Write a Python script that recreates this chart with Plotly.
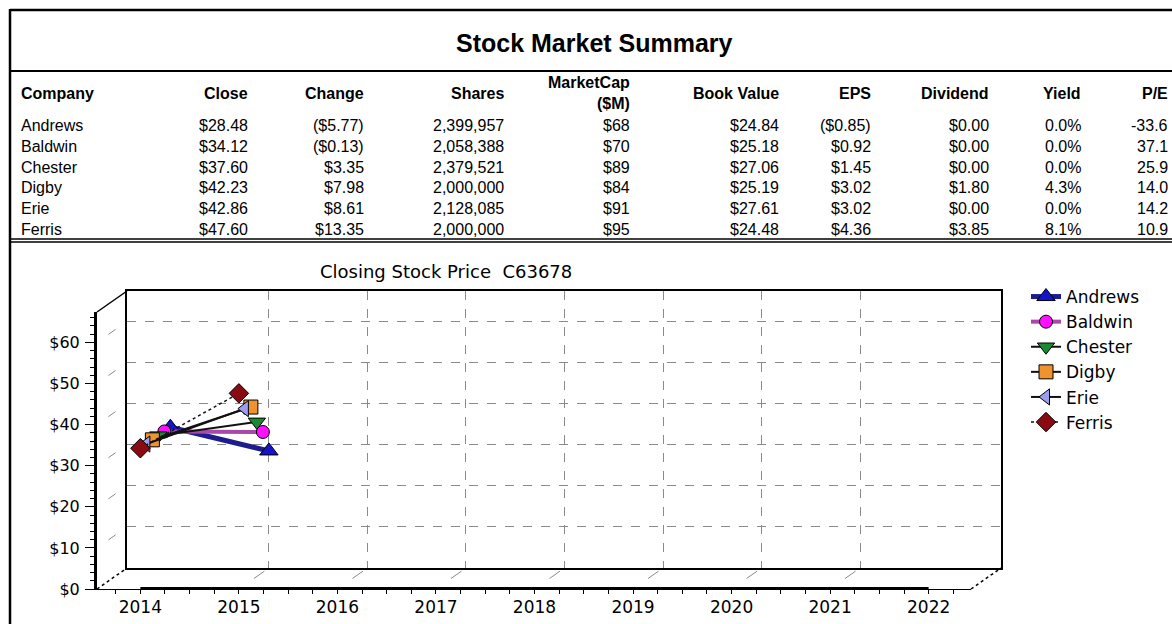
import plotly.graph_objects as go

# table data
companies = ["Andrews", "Baldwin", "Chester", "Digby", "Erie", "Ferris"]
close = [28.48, 34.12, 37.60, 42.23, 42.86, 47.60]
change = [-5.77, -0.13, 3.35, 7.98, 8.61, 13.35]
shares = [2399957, 2058388, 2379521, 2000000, 2128085, 2000000]
market_cap = [68, 70, 89, 84, 91, 95]
book_value = [24.84, 25.18, 27.06, 25.19, 27.61, 24.48]
eps = [-0.85, 0.92, 1.45, 3.02, 3.02, 4.36]
dividend = [0.00, 0.00, 0.00, 1.80, 0.00, 3.85]
yield_pct = [0.0, 0.0, 0.0, 4.3, 0.0, 8.1]
pe = [-33.6, 37.1, 25.9, 14.0, 14.2, 10.9]

# chart data
years = [2014, 2015]
year_ticks = [2014, 2015, 2016, 2017, 2018, 2019, 2020, 2021, 2022]
price_ticks = [10, 20, 30, 40, 50, 60]
prev_close = [round(c - d, 2) for c, d in zip(close, change)]

colors = {
    "Andrews": dict(line="#1c1c8c", fill="#1414c8", symbol="triangle-up", size=16, width=5, dash="solid"),
    "Baldwin": dict(line="#a848a8", fill="#ff10ff", symbol="circle", size=13, width=4, dash="solid"),
    "Chester": dict(line="#111111", fill="#1a8a32", symbol="triangle-down", size=15, width=2, dash="solid"),
    "Digby": dict(line="#111111", fill="#f0922e", symbol="square", size=14, width=2, dash="solid"),
    "Erie": dict(line="#111111", fill="#9c9cf0", symbol="triangle-left", size=14, width=2, dash="solid"),
    "Ferris": dict(line="#111111", fill="#8a0a12", symbol="diamond", size=15, width=1.5, dash="dot"),
}

W, H = 1172, 624


def px_x(p):
    return p / W


def px_y(p):
    return 1 - p / H


def money(v, dec=2):
    s = f"${abs(v):,.{dec}f}"
    return f"({s})" if v < 0 else s


# geometry of the pseudo 3D box (pixels)
FX0, FX1, FYB, FYT = 97, 971, 589, 312
DEPTH_X, DEPTH_Y = 30, 21
X_RANGE = [2013.56, 2022.43]
Y_RANGE = [0, 67.4]


def fx(year):
    return FX0 + (year - X_RANGE[0]) * (FX1 - FX0) / (X_RANGE[1] - X_RANGE[0])


def fy(v):
    return FYB - (v - Y_RANGE[0]) * (FYB - FYT) / (Y_RANGE[1] - Y_RANGE[0])


fig = go.Figure()
layout = {}
n = len(companies)
for i, name in enumerate(companies):
    k = n - 1 - i  # Andrews at the back, Ferris at the front
    sx = "" if i == 0 else str(i + 1)
    c = colors[name]
    fig.add_trace(go.Scatter(
        x=years, y=[prev_close[i], close[i]], name=name, mode="lines+markers",
        xaxis="x" + sx, yaxis="y" + sx, cliponaxis=False,
        line=dict(color=c["line"], width=c["width"], dash=c["dash"]),
        marker=dict(symbol=c["symbol"], size=c["size"], color=c["fill"],
                    line=dict(color="#000000", width=1)),
    ))
    dx, dy = DEPTH_X * k / (n - 1), DEPTH_Y * k / (n - 1)
    xa = dict(domain=[px_x(FX0 + dx), px_x(FX1 + dx)], range=X_RANGE, anchor="y" + sx,
              automargin=False,
              showgrid=False, zeroline=False, showticklabels=False, ticks="", showline=False)
    ya = dict(domain=[px_y(FYB - dy), px_y(FYT - dy)], range=Y_RANGE, anchor="x" + sx,
              automargin=False,
              showgrid=False, zeroline=False, showticklabels=False, ticks="", showline=False)
    if k == n - 1:
        # back wall with dashed grid
        xa.update(showline=True, mirror=True, linecolor="#000000", linewidth=1.5,
                  showgrid=True, tickmode="array", tickvals=year_ticks[1:-1],
                  gridcolor="#8a8a8a", griddash="dash", gridwidth=1)
        ya.update(showline=True, mirror=True, linecolor="#000000", linewidth=1.5,
                  showgrid=True, tickmode="array", tickvals=price_ticks,
                  gridcolor="#8a8a8a", griddash="dash", gridwidth=1)
    if k == 0:
        # front axes with labels
        xa.update(showline=True, linecolor="#000000", linewidth=1, showticklabels=True,
                  tickmode="linear", tick0=2014, dtick=1, tickformat="d",
                  ticks="outside", ticklen=4, tickcolor="#000000", ticklabelstandoff=-1,
                  minor=dict(tickmode="linear", tick0=2014, dtick=0.25, ticks="outside",
                             ticklen=4, tickcolor="#000000"),
                  tickfont=dict(family="DejaVu Sans", size=17, color="#000000"))
        ya.update(showline=True, linecolor="#000000", linewidth=3, showticklabels=True,
                  tickmode="linear", tick0=0, dtick=10, tickprefix="$",
                  ticks="outside", ticklen=9, tickcolor="#000000", ticklabelstandoff=2,
                  minor=dict(tickmode="linear", tick0=0, dtick=2, ticks="outside",
                             ticklen=4, tickcolor="#000000"),
                  tickfont=dict(family="DejaVu Sans", size=16, color="#000000"))
    layout["xaxis" + sx] = xa
    layout["yaxis" + sx] = ya

front = str(n)

shapes = [
    # page frame
    dict(type="line", xref="paper", yref="paper", x0=px_x(10), x1=1, y0=px_y(10), y1=px_y(10),
         line=dict(color="#000000", width=2.5)),
    dict(type="line", xref="paper", yref="paper", x0=px_x(10), x1=px_x(10), y0=px_y(9), y1=0,
         line=dict(color="#000000", width=2.5)),
    dict(type="line", xref="paper", yref="paper", x0=px_x(10), x1=1, y0=px_y(71), y1=px_y(71),
         line=dict(color="#000000", width=2)),
    dict(type="line", xref="paper", yref="paper", x0=px_x(10), x1=1, y0=px_y(239), y1=px_y(239),
         line=dict(color="#000000", width=1.5)),
    dict(type="line", xref="paper", yref="paper", x0=px_x(10), x1=1, y0=px_y(242), y1=px_y(242),
         line=dict(color="#000000", width=1.5)),
    # box edges joining front and back
    dict(type="line", xref="paper", yref="paper", x0=px_x(FX0), y0=px_y(FYT),
         x1=px_x(FX0 + DEPTH_X), y1=px_y(FYT - DEPTH_Y), line=dict(color="#000000", width=1.5)),
    dict(type="line", xref="paper", yref="paper", x0=px_x(FX0), y0=px_y(FYB),
         x1=px_x(FX0 + DEPTH_X), y1=px_y(FYB - DEPTH_Y), line=dict(color="#000000", width=1.5, dash="dot")),
    dict(type="line", xref="paper", yref="paper", x0=px_x(FX1), y0=px_y(FYB),
         x1=px_x(FX1 + DEPTH_X), y1=px_y(FYB - DEPTH_Y), line=dict(color="#000000", width=1.5, dash="dot")),
    # thick floor line
    dict(type="line", xref="x" + front, yref="y" + front, x0=year_ticks[0], x1=year_ticks[-1],
         y0=0, y1=0, line=dict(color="#000000", width=4)),
]
# side wall and floor grid marks
for v in price_ticks:
    y0 = fy(v)
    shapes.append(dict(type="line", xref="paper", yref="paper",
                       x0=px_x(FX0 + 0.38 * DEPTH_X), y0=px_y(y0 - 0.38 * DEPTH_Y),
                       x1=px_x(FX0 + 0.62 * DEPTH_X), y1=px_y(y0 - 0.62 * DEPTH_Y),
                       line=dict(color="#8a8a8a", width=1)))
for yr in year_ticks[1:-1]:
    x0 = fx(yr)
    shapes.append(dict(type="line", xref="paper", yref="paper",
                       x0=px_x(x0 + 0.5 * DEPTH_X), y0=px_y(FYB - 0.5 * DEPTH_Y),
                       x1=px_x(x0 + 0.85 * DEPTH_X), y1=px_y(FYB - 0.85 * DEPTH_Y),
                       line=dict(color="#8a8a8a", width=1)))

# table text
TF = "Liberation Sans, Arial, sans-serif"
annotations = [
    dict(text="<b>Stock Market Summary</b>", x=px_x(594), y=px_y(43), xref="paper", yref="paper",
         showarrow=False, xanchor="center", yanchor="middle", font=dict(family=TF, size=25, color="#000000")),
    dict(text="Closing Stock Price  C63678", x=px_x(446), y=px_y(271), xref="paper", yref="paper",
         showarrow=False, xanchor="center", yanchor="middle",
         font=dict(family="DejaVu Sans", size=18, color="#000000")),
]
headers = ["Close", "Change", "Shares", "MarketCap<br>($M)", "Book Value", "EPS", "Dividend", "Yield", "P/E"]
col_right = [250, 366, 506, 632, 781, 873, 991, 1083, 1170]
columns = [
    [money(v) for v in close],
    [money(v) for v in change],
    [f"{v:,}" for v in shares],
    [money(v, 0) for v in market_cap],
    [money(v) for v in book_value],
    [money(v) for v in eps],
    [money(v) for v in dividend],
    [f"{v:.1f}%" for v in yield_pct],
    [f"{v:.1f}" for v in pe],
]
annotations.append(dict(text="<b>Company</b>", x=px_x(19), y=px_y(93), xref="paper", yref="paper",
                        showarrow=False, xanchor="left", yanchor="middle",
                        font=dict(family=TF, size=16, color="#000000")))
for h, xr in zip(headers, col_right):
    annotations.append(dict(text=f"<b>{h}</b>", x=px_x(xr), y=px_y(93), xref="paper", yref="paper",
                            showarrow=False, xanchor="right", yanchor="middle", align="right",
                            font=dict(family=TF, size=16, color="#000000")))
for r, name in enumerate(companies):
    yc = 125.5 + r * 20.8
    annotations.append(dict(text=name, x=px_x(19), y=px_y(yc), xref="paper", yref="paper",
                            showarrow=False, xanchor="left", yanchor="middle",
                            font=dict(family=TF, size=16, color="#000000")))
    for col, xr in zip(columns, col_right):
        annotations.append(dict(text=col[r], x=px_x(xr), y=px_y(yc), xref="paper", yref="paper",
                                showarrow=False, xanchor="right", yanchor="middle",
                                font=dict(family=TF, size=16, color="#000000")))

fig.update_layout(
    width=W, height=H, autosize=False,
    margin=dict(l=0, r=0, t=0, b=0, autoexpand=False),
    paper_bgcolor="#ffffff",
    plot_bgcolor="rgba(0,0,0,0)",
    showlegend=True,
    legend=dict(x=px_x(1026), y=px_y(279), xanchor="left", yanchor="top",
                bgcolor="rgba(0,0,0,0)", font=dict(family="DejaVu Sans", size=17, color="#000000")),
    shapes=shapes,
    annotations=annotations,
    **layout,
)

fig.write_html("out.html", config={"responsive": False, "displayModeBar": False},
               post_script="document.body.style.margin='0';document.body.style.overflow='hidden';")
